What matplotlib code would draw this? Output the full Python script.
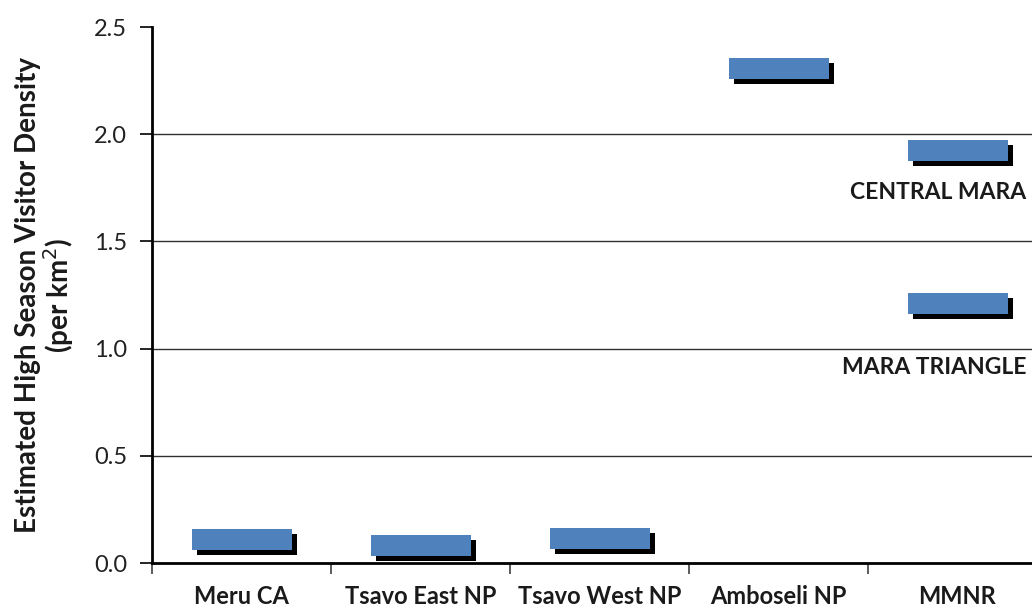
import matplotlib
matplotlib.use("Agg")
import matplotlib.pyplot as plt
import matplotlib.transforms as mtransforms
from matplotlib.path import Path
import numpy as np

plt.rcParams['font.family'] = ['Lato', 'DejaVu Sans']

categories = ["Meru CA", "Tsavo East NP", "Tsavo West NP", "Amboseli NP", "MMNR"]
density = [0.114, 0.084, 0.117, 2.31, 1.926, 1.215]
site_index = [0, 1, 2, 3, 4, 4]
sub_labels = ["CENTRAL MARA", "MARA TRIANGLE"]
sub_label_y = [1.73, 0.91]
yticks = [0.0, 0.5, 1.0, 1.5, 2.0, 2.5]

fig = plt.figure(figsize=(10.32, 6.09), dpi=100)
ax = fig.add_axes([152/1032, 46/609, 895/1032, 536/609])

ax.set_xlim(-0.5, len(categories) - 0.5)
ax.set_ylim(0, 2.5)

for g in [0.5, 1.0, 1.5, 2.0]:
    ax.axhline(g, color='#303030', lw=1.0, zorder=1)

rect = Path([(-1, -0.21), (1, -0.21), (1, 0.21), (-1, 0.21), (-1, -0.21)],
            [Path.MOVETO, Path.LINETO, Path.LINETO, Path.LINETO, Path.CLOSEPOLY])
shadow = mtransforms.offset_copy(ax.transData, fig=fig, x=5, y=-5, units='dots')
ax.plot(site_index, density, linestyle='none', marker=rect, markersize=72,
        color='black', markeredgewidth=0, transform=shadow, zorder=2)
ax.plot(site_index, density, linestyle='none', marker=rect, markersize=72,
        color='#4F81BD', markeredgewidth=0, zorder=3)

for lab, yy in zip(sub_labels, sub_label_y):
    ax.text(4.385, yy, lab, ha='right', va='center', fontsize=16.5,
            fontweight='bold', color='#1a1a1a')

ax.set_yticks(yticks)
ax.set_yticklabels([f"{v:.1f}" for v in yticks], fontsize=17, color='#222222')
ax.set_xticks(range(len(categories)))
ax.set_xticklabels(categories, fontsize=17, fontweight='bold', color='#1a1a1a')
ax.tick_params(axis='x', which='major', length=0, pad=16)
ax.set_xticks(np.arange(-0.5, len(categories), 1.0), minor=True)
ax.tick_params(axis='x', which='minor', length=8, width=1.2, direction='out', color='#404040')
ax.tick_params(axis='y', length=9, width=1.2, direction='out', pad=9)

for s in ['top', 'right']:
    ax.spines[s].set_visible(False)
for s in ['left', 'bottom']:
    ax.spines[s].set_linewidth(2)
    ax.spines[s].set_color('black')

ax.set_ylabel("Estimated High Season Visitor Density\n(per km$^2$)", fontsize=20,
              fontweight='bold', color='#1a1a1a', labelpad=13, linespacing=1.0)

fig.savefig("out.png", dpi=100)
